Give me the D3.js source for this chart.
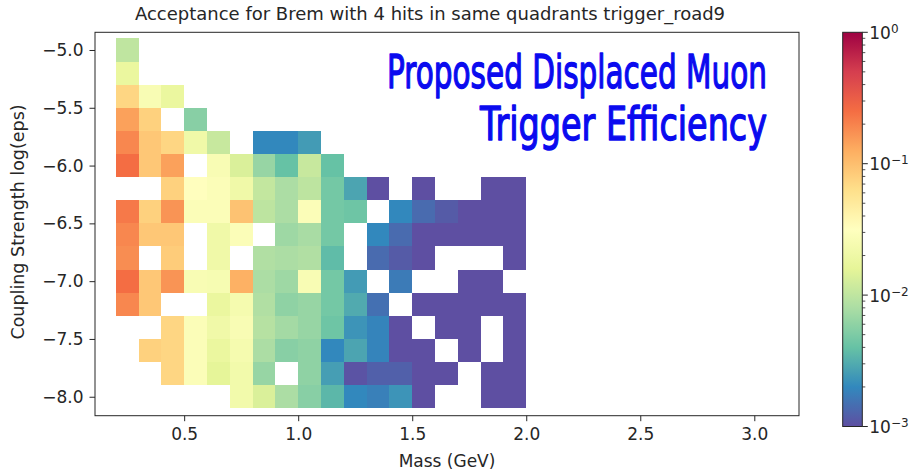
<!DOCTYPE html>
<html>
<head>
<meta charset="utf-8">
<script src="https://cdn.jsdelivr.net/npm/d3@7"></script>
<style>
  html, body { margin: 0; padding: 0; background: #fff; }
  svg { display: block; font-family: "DejaVu Sans", sans-serif; }
</style>
</head>
<body>
<svg id="chart" width="914" height="472"></svg>
<script>
// Bin centres of the acceptance histogram
const massCenters = [0.25, 0.35, 0.45, 0.55, 0.65, 0.75, 0.85, 0.95, 1.05,
                     1.15, 1.25, 1.35, 1.45, 1.55, 1.65, 1.75, 1.85, 1.95];
const logEpsCenters = [-5.0, -5.2, -5.4, -5.6, -5.8, -6.0, -6.2, -6.4,
                       -6.6, -6.8, -7.0, -7.2, -7.4, -7.6, -7.8, -8.0];
const massBinWidth = 0.1;
const logEpsBinWidth = 0.2;

// Acceptance, one row per log(eps) bin, one column per mass bin (null = no entry)
const _ = null;
const acceptance = [
  [0.010, _, _, _, _, _, _, _, _, _, _, _, _, _, _, _, _, _],
  [0.018, _, _, _, _, _, _, _, _, _, _, _, _, _, _, _, _, _],
  [0.072, 0.026, 0.018, _, _, _, _, _, _, _, _, _, _, _, _, _, _, _],
  [0.145, 0.078, _, 0.0056, _, _, _, _, _, _, _, _, _, _, _, _, _, _],
  [0.19, 0.089, 0.072, 0.021, 0.011, _, 0.002, 0.002, 0.0025, _, _, _, _, _, _, _, _, _],
  [0.25, 0.089, 0.145, _, 0.026, 0.0138, 0.0065, 0.004, 0.011, 0.004, _, _, _, _, _, _, _, _],
  [_, _, 0.078, 0.032, 0.028, 0.021, 0.0105, 0.008, 0.0098, 0.0046, 0.0028, 0.001, _, 0.001, _, _, 0.001, 0.001],
  [0.22, 0.078, 0.166, 0.028, 0.028, 0.095, 0.0098, 0.008, 0.028, 0.0046, 0.0043, _, 0.002, 0.0014, 0.00115, 0.001, 0.001, 0.001],
  [0.19, 0.089, 0.089, _, 0.021, 0.028, _, 0.007, 0.0078, 0.0046, _, 0.002, 0.0014, 0.001, 0.001, 0.001, 0.001, 0.001],
  [0.178, _, 0.083, _, 0.021, _, 0.0085, 0.008, 0.0085, 0.0037, _, 0.0014, 0.00115, 0.001, _, _, _, 0.001],
  [0.25, 0.089, 0.166, 0.026, 0.025, 0.12, 0.008, 0.007, 0.026, 0.0046, 0.0025, _, 0.0017, _, _, 0.001, 0.001, _],
  [0.19, 0.089, _, _, 0.018, 0.024, 0.0085, 0.006, 0.0065, 0.0046, 0.003, 0.0015, _, 0.001, 0.001, 0.001, 0.001, 0.001],
  [_, _, 0.072, 0.028, 0.021, 0.026, 0.009, 0.0074, 0.0065, 0.0043, 0.0023, 0.0019, 0.001, _, 0.001, 0.001, _, 0.001],
  [_, 0.078, 0.072, 0.028, 0.018, 0.024, 0.008, 0.0056, 0.006, 0.002, 0.0028, 0.0019, 0.001, 0.001, _, 0.001, _, 0.001],
  [_, _, 0.072, 0.028, 0.016, 0.022, 0.0065, _, 0.006, 0.0026, 0.00105, 0.00123, 0.00123, 0.001, 0.001, _, 0.001, 0.001],
  [_, _, _, _, _, 0.022, 0.0138, 0.008, 0.0056, 0.0035, 0.002, 0.0018, 0.0023, 0.001, _, _, 0.001, 0.001]
];

const xTicks = [0.5, 1.0, 1.5, 2.0, 2.5, 3.0];
const yTicks = [-5.0, -5.5, -6.0, -6.5, -7.0, -7.5, -8.0];
const colorTicks = [1e-3, 1e-2, 1e-1, 1];
const colorExponents = ["\u22123", "\u22122", "\u22121", "0"];

// ColorBrewer Spectral, reversed so that low acceptance is purple
const spectral = ["#9e0142", "#d53e4f", "#f46d43", "#fdae61", "#fee08b", "#ffffbf",
                  "#e6f598", "#abdda4", "#66c2a5", "#3288bd", "#5e4fa2"];

const titleText = "Acceptance for Brem with 4 hits in same quadrants trigger_road9";
const noteLines = ["Proposed Displaced Muon", "Trigger Efficiency"];

// ---------------------------------------------------------------------------
const svg = d3.select("#chart");
const plot = { left: 95, right: 799, top: 32.3, bottom: 415.7 };
const cbar = { left: 842.7, right: 862.3, top: 32.3, bottom: 426.5 };
const ink = "#262626";
const tickFont = "17px";

const x = d3.scaleLinear().domain([0.109, 3.196]).range([plot.left, plot.right]);
const y = d3.scaleLinear().domain([-4.847, -8.164]).range([plot.top, plot.bottom]);

const norm = d3.scaleLog().domain([1e-3, 1]).clamp(true);
const cmap = d3.scaleLinear()
  .domain(d3.range(spectral.length).map(i => i / (spectral.length - 1)))
  .range(spectral.slice().reverse())
  .interpolate(d3.interpolateRgb);
const color = v => cmap(norm(v));

// Heatmap cells
const cells = [];
acceptance.forEach((row, j) => row.forEach((v, i) => {
  if (v != null) cells.push({ m: massCenters[i], e: logEpsCenters[j], v });
}));

svg.append("g")
  .attr("shape-rendering", "crispEdges")
  .selectAll("rect")
  .data(cells)
  .join("rect")
  .attr("x", d => x(d.m - massBinWidth / 2))
  .attr("width", d => x(d.m + massBinWidth / 2) - x(d.m - massBinWidth / 2))
  .attr("y", d => y(d.e + logEpsBinWidth / 2))
  .attr("height", d => y(d.e - logEpsBinWidth / 2) - y(d.e + logEpsBinWidth / 2))
  .attr("fill", d => color(d.v));

// Axes
const xAxis = svg.append("g")
  .attr("transform", `translate(0,${plot.bottom})`)
  .call(d3.axisBottom(x).tickValues(xTicks).tickFormat(d3.format(".1f"))
    .tickSize(5.5).tickPadding(7));
const yAxis = svg.append("g")
  .attr("transform", `translate(${plot.left},0)`)
  .call(d3.axisLeft(y).tickValues(yTicks).tickFormat(d3.format(".1f"))
    .tickSize(5.5).tickPadding(6));

[xAxis, yAxis].forEach(g => {
  g.select(".domain").remove();
  g.selectAll(".tick line").attr("stroke", ink).attr("stroke-width", 1);
  g.selectAll(".tick text").attr("fill", ink)
    .style("font-family", "DejaVu Sans, sans-serif").style("font-size", tickFont);
});

// Plot frame
svg.append("rect")
  .attr("x", plot.left).attr("y", plot.top)
  .attr("width", plot.right - plot.left).attr("height", plot.bottom - plot.top)
  .attr("fill", "none").attr("stroke", ink).attr("stroke-width", 1);

// Titles
svg.append("text")
  .attr("x", 430).attr("y", 20)
  .attr("text-anchor", "middle").attr("fill", ink)
  .style("font-size", "18px")
  .text(titleText);

svg.append("text")
  .attr("x", (plot.left + plot.right) / 2).attr("y", 467)
  .attr("text-anchor", "middle").attr("fill", ink)
  .style("font-size", tickFont)
  .text("Mass (GeV)");

svg.append("text")
  .attr("transform", `translate(24,${(plot.top + plot.bottom) / 2 - 2}) rotate(-90)`)
  .attr("text-anchor", "middle").attr("fill", ink)
  .style("font-size", "17.5px")
  .text("Coupling Strength log(eps)");

// Colour bar
const defs = svg.append("defs");
const grad = defs.append("linearGradient")
  .attr("id", "cbarGrad").attr("x1", 0).attr("y1", 1).attr("x2", 0).attr("y2", 0);
d3.range(0, 1.0001, 0.02).forEach(t => {
  grad.append("stop").attr("offset", t).attr("stop-color", cmap(t));
});

const c = d3.scaleLog().domain([1e-3, 1]).range([cbar.bottom, cbar.top]);
svg.append("rect")
  .attr("x", cbar.left).attr("y", cbar.top)
  .attr("width", cbar.right - cbar.left).attr("height", cbar.bottom - cbar.top)
  .attr("fill", "url(#cbarGrad)")
  .attr("stroke", ink).attr("stroke-width", 1);

const minorTicks = [];
[1e-3, 1e-2, 1e-1].forEach(dec => d3.range(2, 10).forEach(k => minorTicks.push(dec * k)));

const cAxis = svg.append("g").attr("transform", `translate(${cbar.right},0)`);
cAxis.selectAll("line.minor").data(minorTicks).join("line")
  .attr("class", "minor")
  .attr("x1", 0).attr("x2", 3)
  .attr("y1", d => c(d)).attr("y2", d => c(d))
  .attr("stroke", ink).attr("stroke-width", 0.8);
const major = cAxis.selectAll("g.major").data(colorTicks).join("g")
  .attr("class", "major")
  .attr("transform", d => `translate(0,${c(d)})`);
major.append("line").attr("x1", 0).attr("x2", 5.5).attr("stroke", ink).attr("stroke-width", 1);
const lbl = major.append("text")
  .attr("x", 7).attr("dy", "0.38em").attr("fill", ink)
  .style("font-size", tickFont);
lbl.append("tspan").text("10");
lbl.append("tspan")
  .attr("dy", "-0.5em").style("font-size", "12px")
  .text(d => colorExponents[colorTicks.indexOf(d)]);

// Hand-written note: narrow glyphs stretched upward, right-aligned in the upper plot area
const noteRight = 767;
const noteBaselines = [88, 140];
const note = svg.append("g")
  .attr("fill", "#0a0aef")
  .attr("stroke", "#0a0aef").attr("stroke-width", 1.2).attr("stroke-linejoin", "round")
  .style("font-family", "'Liberation Sans Narrow', 'DejaVu Sans', sans-serif")
  .style("font-size", "38px");
noteLines.forEach((line, i) => {
  note.append("g")
    .attr("transform", `translate(${noteRight},${noteBaselines[i]}) scale(1,1.22)`)
    .append("text")
    .attr("text-anchor", "end")
    .attr("textLength", i === 0 ? 380 : 287)
    .attr("lengthAdjust", "spacingAndGlyphs")
    .text(line);
});
</script>
</body>
</html>
